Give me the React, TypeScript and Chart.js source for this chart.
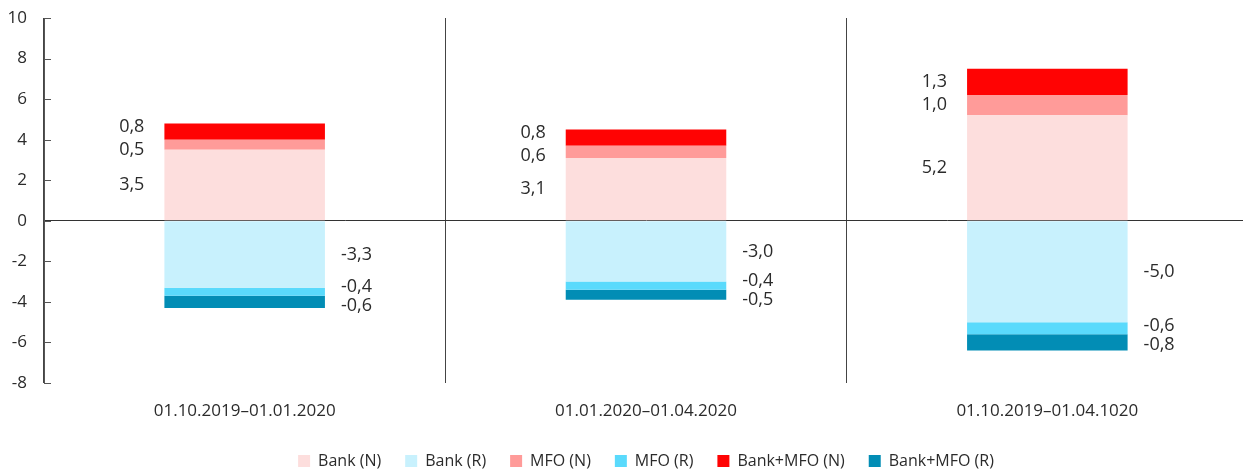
import { useEffect, useRef } from "react";
import { Chart, registerables } from "chart.js";

Chart.register(...registerables);

// Periods on the category axis
const periods = ["01.10.2019–01.01.2020", "01.01.2020–01.04.2020", "01.10.2019–01.04.1020"];

// Series values, percentage points
const bankN = [3.5, 3.1, 5.2];
const bankR = [-3.3, -3.0, -5.0];
const mfoN = [0.5, 0.6, 1.0];
const mfoR = [-0.4, -0.4, -0.6];
const bothN = [0.8, 0.8, 1.3];
const bothR = [-0.6, -0.5, -0.8];

// Value axis range
const yMin = -8;
const yMax = 10;
const yStep = 2;

const FONT = "'Open Sans', 'DejaVu Sans', sans-serif";
const TEXT = "#2b2b2b";
const AXIS = "#555555";

const fmt = (v: number) => v.toFixed(1).replace(".", ",");

type LabelItem = { v: number; y: number; x: number; w: number };

// push neighbouring labels apart so they don't overlap
function spread(items: LabelItem[], gap: number) {
  items.sort((a, b) => a.y - b.y);
  for (let it = 0; it < 30; it++) {
    for (let k = 1; k < items.length; k++) {
      const d = items[k].y - items[k - 1].y;
      if (d < gap) {
        const s = (gap - d) / 2;
        items[k - 1].y -= s;
        items[k].y += s;
      }
    }
  }
}

// Value labels: positive parts to the left of the bar, negative parts to the right
const valueLabels = {
  id: "valueLabels",
  afterDatasetsDraw(chart: any) {
    const ctx = chart.ctx;
    const n = chart.data.labels.length;
    ctx.save();
    ctx.font = `18px ${FONT}`;
    ctx.fillStyle = TEXT;
    ctx.textBaseline = "middle";
    for (let i = 0; i < n; i++) {
      const pos: LabelItem[] = [];
      const neg: LabelItem[] = [];
      chart.data.datasets.forEach((ds: any, d: number) => {
        const el = chart.getDatasetMeta(d).data[i];
        const v = ds.data[i] as number;
        const p = el.getProps(["x", "y", "base", "width"], true);
        const item = { v, y: (p.y + p.base) / 2, x: p.x, w: p.width };
        (v >= 0 ? pos : neg).push(item);
      });
      spread(pos, 23);
      spread(neg, 19);
      pos.forEach((it) => {
        ctx.textAlign = "right";
        ctx.fillText(fmt(it.v), it.x - it.w / 2 - 20, it.y);
      });
      neg.forEach((it) => {
        ctx.textAlign = "left";
        ctx.fillText(fmt(it.v), it.x + it.w / 2 + 16, it.y);
      });
    }
    ctx.restore();
  },
};

// Short tick marks on the value axis, pointing into the plot
const innerTicks = {
  id: "innerTicks",
  afterDraw(chart: any) {
    const ctx = chart.ctx;
    const ys = chart.scales.y;
    const left = chart.chartArea.left;
    ctx.save();
    ctx.strokeStyle = AXIS;
    ctx.lineWidth = 1;
    ys.ticks.forEach((t: any) => {
      const py = Math.round(ys.getPixelForValue(t.value)) + 0.5;
      ctx.beginPath();
      ctx.moveTo(left, py);
      ctx.lineTo(left + 7, py);
      ctx.stroke();
    });
    ctx.restore();
  },
};

export default function App() {
  const ref = useRef<HTMLCanvasElement | null>(null);

  useEffect(() => {
    if (!ref.current) return;
    const chart = new Chart(ref.current, {
      type: "bar",
      data: {
        labels: periods,
        datasets: [
          { label: "Bank (N)", data: bankN, backgroundColor: "#fddedd" },
          { label: "Bank (R)", data: bankR, backgroundColor: "#c8f1fd" },
          { label: "MFO (N)", data: mfoN, backgroundColor: "#ff9b99" },
          { label: "MFO (R)", data: mfoR, backgroundColor: "#5adafc" },
          { label: "Bank+MFO (N)", data: bothN, backgroundColor: "#ff0303" },
          { label: "Bank+MFO (R)", data: bothR, backgroundColor: "#028db5" },
        ],
      },
      options: {
        responsive: false,
        animation: false,
        layout: { padding: { top: 18, left: 0, right: 2, bottom: 0 } },
        datasets: {
          bar: { categoryPercentage: 1, barPercentage: 0.4, borderWidth: 0 },
        },
        scales: {
          x: {
            stacked: true,
            offset: true,
            border: { display: false },
            grid: { offset: true, color: "#444444", lineWidth: 1, drawTicks: false },
            ticks: { color: TEXT, font: { family: FONT, size: 17 }, padding: 18, maxRotation: 0 },
            afterFit: (s: any) => {
              s.height = 46;
            },
          },
          y: {
            stacked: true,
            min: yMin,
            max: yMax,
            border: { display: true, color: AXIS },
            grid: {
              drawTicks: false,
              color: (c: any) => (c.tick && c.tick.value === 0 ? "#333333" : "rgba(0,0,0,0)"),
            },
            ticks: { stepSize: yStep, color: TEXT, font: { family: FONT, size: 17 }, padding: 17 },
            afterFit: (s: any) => {
              s.width = 44;
              s.paddingTop = 0;
              s.paddingBottom = 0;
            },
          },
        },
        plugins: {
          tooltip: { enabled: false },
          legend: {
            position: "bottom",
            fullSize: false,
            maxHeight: 45,
            labels: {
              boxWidth: 12,
              boxHeight: 12,
              padding: 24,
              color: TEXT,
              font: { family: FONT, size: 16 },
            },
          },
        },
      } as any,
      plugins: [valueLabels, innerTicks],
    });
    return () => chart.destroy();
  }, []);

  return (
    <div
      style={{
        position: "fixed",
        left: 0,
        top: 0,
        width: 1243,
        height: 474,
        overflow: "hidden",
        background: "#ffffff",
      }}
    >
      <canvas ref={ref} width={1250} height={474} style={{ display: "block" }} />
    </div>
  );
}
